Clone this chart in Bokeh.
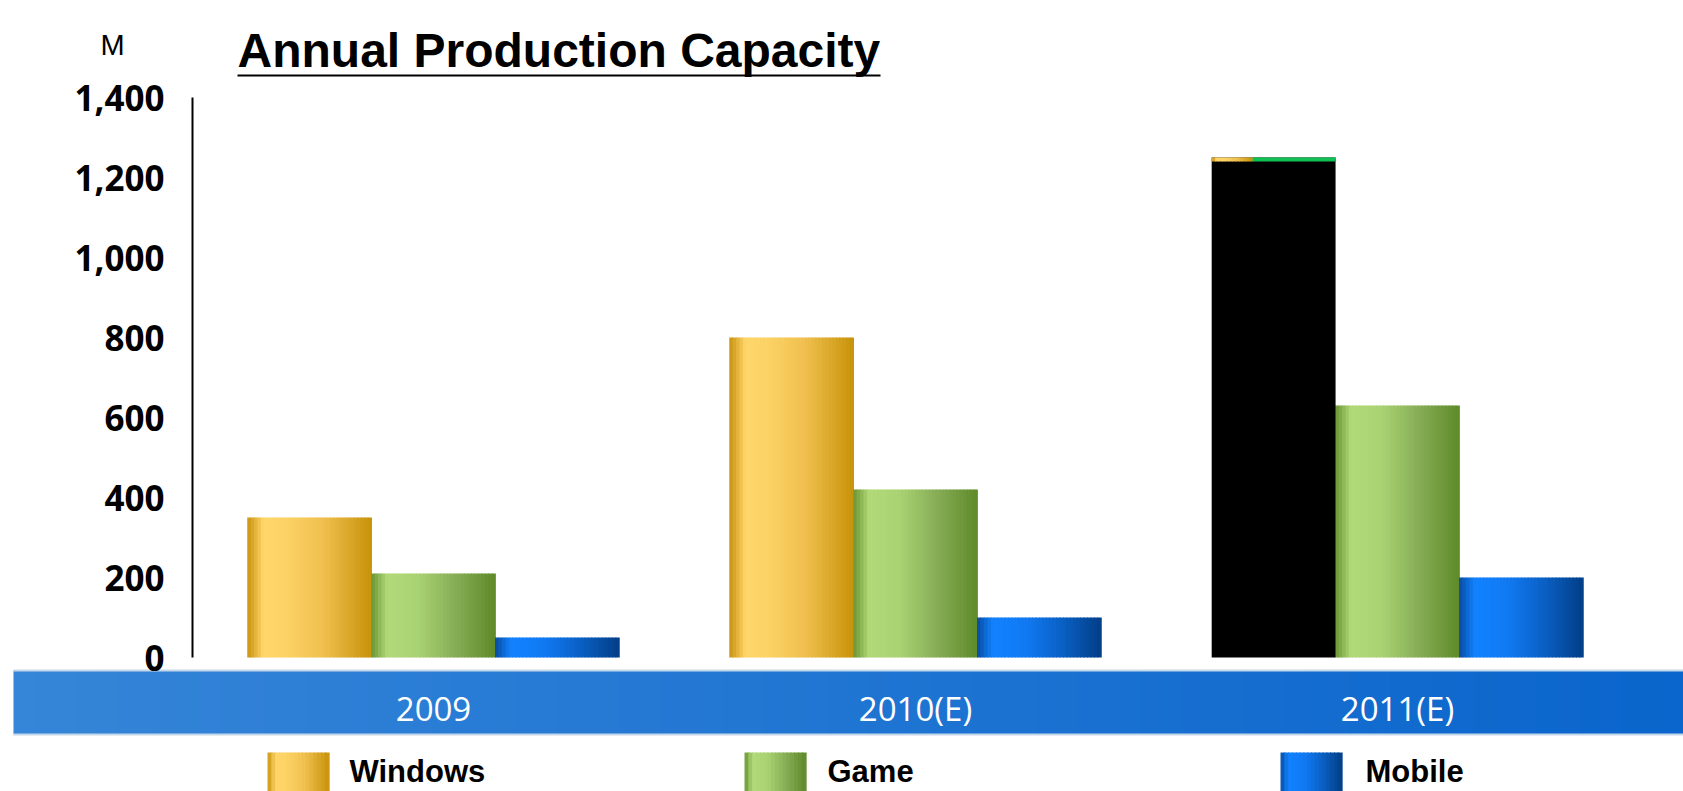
import numpy as np
from bokeh.plotting import figure
from bokeh.models import Range1d, LinearAxis, FixedTicker, NumeralTickFormatter, ColumnDataSource
from bokeh.core.properties import value
from bokeh.embed import file_html
from bokeh.resources import INLINE

# ---------------- data ----------------
title_text = "Annual Production Capacity"
unit_text = "M"
categories = ["2009", "2010(E)", "2011(E)"]
series_names = ["Windows", "Game", "Mobile"]
series1 = [350, 800, 1250]
series2 = [210, 420, 630]
series3 = [50, 100, 200]
y_ticks = [0, 200, 400, 600, 800, 1000, 1200, 1400]

# ---------------- layout constants (page pixels) ----------------
W, H = 1683, 791
PX_PER_CAT = 482.0
PX_PER_UNIT = 0.4
FRAME_LEFT = 192
ZERO_Y = 657
x_start = -0.5 - FRAME_LEFT / PX_PER_CAT
x_end = x_start + W / PX_PER_CAT
y_end = ZERO_Y / PX_PER_UNIT
y_start = y_end - H / PX_PER_UNIT


def fx(px):
    return x_start + px / PX_PER_CAT


def fy(py):
    return y_end - py / PX_PER_UNIT


def hex2rgb(h):
    return tuple(int(h[i:i + 2], 16) for i in (1, 3, 5))


def grad(stops, t):
    for (t0, c0), (t1, c1) in zip(stops, stops[1:]):
        if t <= t1:
            f = 0 if t1 == t0 else (t - t0) / (t1 - t0)
            a, b = hex2rgb(c0), hex2rgb(c1)
            return "#%02x%02x%02x" % tuple(int(round(a[j] + (b[j] - a[j]) * f)) for j in range(3))
    return stops[-1][1]


GOLD = [(0.0, "#c9940f"), (0.05, "#dcaa30"), (0.13, "#ffd66a"), (0.32, "#fcd265"),
        (0.62, "#efbf4e"), (1.0, "#c8930a")]
GREEN = [(0.0, "#6a9636"), (0.05, "#84ad4c"), (0.13, "#b2da79"), (0.38, "#a9d273"),
         (0.68, "#86ad55"), (1.0, "#5f8a2a")]
BLUE = [(0.0, "#0b4a9c"), (0.05, "#0b62c6"), (0.13, "#1282ff"), (0.4, "#1079f2"),
        (0.7, "#0a5fc2"), (1.0, "#023f88")]
BAND = [(0.0, "#3585d8"), (1.0, "#0a65cc")]

p = figure(width=W, height=H, output_backend="svg", toolbar_location=None,
           x_range=Range1d(x_start, x_end), y_range=Range1d(y_start, y_end),
           x_axis_type=None, y_axis_type=None, title=None,
           min_border=0, min_border_left=0, min_border_right=0,
           min_border_top=0, min_border_bottom=0)
p.outline_line_color = None
p.background_fill_color = "#ffffff"
p.border_fill_color = "#ffffff"
p.xgrid.visible = False
p.ygrid.visible = False

# ---------------- bars (sliced for gradient) ----------------
BAR_W = 0.257
K = 36
OVERLAP = 1.25
offsets = [-BAR_W, 0.0, BAR_W]
series_values = [series1, series2, series3]
series_stops = [GOLD, GREEN, BLUE]
OVERRIDE = {(2, 0): "#000000"}

for s, (vals, off, st) in enumerate(zip(series_values, offsets, series_stops)):
    xs, tops, cols = [], [], []
    for i, v in enumerate(vals):
        if (i, s) in OVERRIDE:
            continue
        for k in range(K):
            t = (k + 0.5) / K
            xs.append(i + off - BAR_W / 2 + t * BAR_W)
            tops.append(v)
            cols.append(grad(st, t))
    src = ColumnDataSource(dict(x=xs, top=tops, color=cols))
    p.vbar(x="x", top="top", bottom=0, width=BAR_W / K * OVERLAP, fill_color="color",
           line_color=None, source=src)

# bar drawn in flat colour, with thin coloured strip on top
for (i_b, s_b), col in OVERRIDE.items():
    v_b = series_values[s_b][i_b]
    p.vbar(x=[i_b + offsets[s_b]], top=[v_b], bottom=0, width=BAR_W,
           fill_color=col, line_color=None)
    left_b = i_b + offsets[s_b] - BAR_W / 2
    strip_h = 4 / PX_PER_UNIT
    ns = 12
    gx = np.linspace(left_b, left_b + BAR_W * 0.33, ns + 1)
    p.quad(left=gx[:-1], right=gx[1:] + BAR_W * 0.33 / ns * 0.2, top=v_b, bottom=v_b - strip_h,
           fill_color=[grad(GOLD, (j + 0.5) / ns) for j in range(ns)],
           line_color=None)
    p.quad(left=[left_b + BAR_W * 0.33], right=[left_b + BAR_W], top=v_b, bottom=v_b - strip_h,
           fill_color="#0fc052", line_color=None)

# ---------------- category band ----------------
NB = 80
bx = np.linspace(fx(13), fx(W), NB + 1)
bstep = bx[1] - bx[0]
p.quad(left=bx[:-1], right=bx[1:] + bstep * 0.3, top=fy(670), bottom=fy(734),
       fill_color=[grad(BAND, (j + 0.5) / NB) for j in range(NB)], line_color=None)
p.segment(x0=[fx(13)], x1=[fx(W)], y0=[fy(670)], y1=[fy(670)], line_color="#c6d7ea", line_width=2)
p.segment(x0=[fx(13)], x1=[fx(W)], y0=[fy(734)], y1=[fy(734)], line_color="#c6d7ea", line_width=2)

p.text(x=list(range(len(categories))), y=[fy(708)] * len(categories), text=categories,
       text_align="center", text_baseline="middle", text_color="#ffffff",
       text_font=value("Open Sans"), text_font_size=value("33px"))

# ---------------- y axis ----------------
yaxis = LinearAxis(fixed_location=-0.5, bounds=(0, 1400),
                   ticker=FixedTicker(ticks=y_ticks),
                   formatter=NumeralTickFormatter(format="0,0"))
yaxis.axis_line_color = "#000000"
yaxis.axis_line_width = 2
yaxis.major_tick_line_color = None
yaxis.minor_tick_line_color = None
yaxis.major_label_text_font = "Open Sans"
yaxis.major_label_text_font_size = "35px"
yaxis.major_label_text_font_style = "bold"
yaxis.major_label_text_color = "#000000"
yaxis.major_label_standoff = 22
p.add_layout(yaxis, "left")

# ---------------- title & unit ----------------
p.text(x=[fx(237)], y=[fy(50)], text=[title_text], text_align="left",
       text_baseline="middle", text_color="#000000",
       text_font=value("Liberation Sans"), text_font_size=value("48px"),
       text_font_style="bold")
p.segment(x0=[fx(237)], x1=[fx(880)], y0=[fy(75)], y1=[fy(75)],
          line_color="#000000", line_width=2)
p.text(x=[fx(100)], y=[fy(44)], text=[unit_text], text_align="left",
       text_baseline="middle", text_color="#000000",
       text_font=value("Liberation Sans"), text_font_size=value("29px"))

# ---------------- legend ----------------
leg_sq_left = [267, 744, 1280]
leg_txt_left = [349, 827, 1365]
SQ_W = 61
NL = 16
for j, name in enumerate(series_names):
    lx = np.linspace(fx(leg_sq_left[j]), fx(leg_sq_left[j] + SQ_W), NL + 1)
    lstep = lx[1] - lx[0]
    cols = [grad(series_stops[j], (q + 0.5) / NL) for q in range(NL)]
    p.quad(left=lx[:-1], right=lx[1:] + lstep * 0.3, top=fy(752), bottom=fy(H + 2),
           fill_color=cols, line_color=None)
    p.text(x=[fx(leg_txt_left[j])], y=[fy(771)], text=[name], text_align="left",
           text_baseline="middle", text_color="#000000",
           text_font=value("Liberation Sans"), text_font_size=value("31px"),
           text_font_style="bold")

open("out.html", "w").write(file_html(p, INLINE, title="Annual Production Capacity"))
